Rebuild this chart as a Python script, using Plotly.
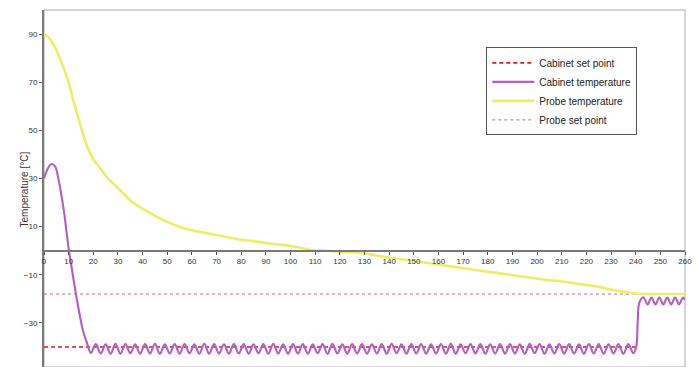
import plotly.graph_objects as go

# ---- data -------------------------------------------------------------
# Probe (core) temperature, minutes vs °C
probe_time = [0, 2, 4, 6, 8, 10, 12, 14, 16, 18, 20, 23, 26, 30, 36, 40, 46, 50,
              55, 60, 65, 70, 75, 80, 85, 90, 95, 100, 105, 110, 115, 120, 128,
              135, 141, 148, 155, 162, 168, 175, 182, 189, 196, 203, 210, 217,
              224, 231, 236, 240, 244, 250, 255, 260]
probe_temp = [90, 88.5, 85.5, 81, 76, 70, 62, 55, 48, 42, 38, 34, 30, 26, 20, 17.5,
              14, 12, 10, 8.5, 7.5, 6.5, 5.5, 4.5, 4, 3.2, 2.6, 2, 1, 0.2, 0, -0.4,
              -0.8, -2, -3, -4, -5, -6, -7, -8, -9, -10, -11, -12, -12.8, -13.8,
              -14.8, -16.3, -17.2, -17.8, -18, -18, -18, -18]

# Cabinet air temperature: pull-down ramp
cab_ramp_time = [0, 1.5, 3, 4.5, 6, 8, 10, 12, 14, 16, 17.5]
cab_ramp_temp = [30, 34, 36, 35, 29, 17, 1, -12, -24, -34, -38.5]

# Cabinet air temperature: holding at -40 °C, logged every 2 minutes
cab_hold_time = list(range(19, 240, 2))
cab_hold_temp = [
    -42.5, -38.8, -42.7, -38.9, -42.8, -38.7, -42.8, -38.8, -42.6, -38.9,
    -42.8, -38.8, -42.7, -38.7, -42.8, -38.9, -42.7, -38.8, -42.8, -38.8,
    -42.6, -38.9, -42.8, -38.7, -42.8, -38.8, -42.7, -38.9, -42.8, -38.8,
    -42.7, -38.8, -42.8, -38.9, -42.6, -38.8, -42.8, -38.7, -42.7, -38.9,
    -42.8, -38.8, -42.7, -38.8, -42.8, -38.9, -42.6, -38.8, -42.8, -38.7,
    -42.7, -38.9, -42.8, -38.8, -42.7, -38.8, -42.8, -38.9, -42.7, -38.8,
    -42.8, -38.7, -42.6, -38.9, -42.8, -38.8, -42.7, -38.8, -42.8, -38.9,
    -42.7, -38.8, -42.8, -38.7, -42.8, -38.9, -42.6, -38.8, -42.7, -38.8,
    -42.8, -38.9, -42.7, -38.8, -42.8, -38.8, -42.7, -38.9, -42.8, -38.7,
    -42.6, -38.8, -42.8, -38.9, -42.7, -38.8, -42.8, -38.8, -42.7, -38.9,
    -42.8, -38.8, -42.7, -38.8, -42.8, -38.9, -42.7, -38.8, -42.8, -38.8,
    -42.6,
]

# Cabinet air temperature: storage phase after the probe reaches its set point
cab_store_time = [240.2, 240.8, 241.5, 243.2, 244.8, 246.4, 248.0, 249.6, 251.2,
                  252.8, 254.4, 256.0, 257.6, 259.2, 260]
cab_store_temp = [-40, -30, -21.5, -19.4, -22.3, -19.4, -22.3, -19.4, -22.3,
                  -19.4, -22.3, -19.4, -22.3, -19.4, -20.5]

cabinet_time = cab_ramp_time + cab_hold_time + cab_store_time
cabinet_temp = cab_ramp_temp + cab_hold_temp + cab_store_temp

cab_sp_time = [0, 240]
cab_sp_temp = [-40, -40]
probe_sp_time = [0, 260]
probe_sp_temp = [-18, -18]

x_ticks = list(range(0, 261, 10))
y_ticks = [-30, -10, 10, 30, 50, 70, 90]
y_min, y_max = -48.3, 100

FONT = "Liberation Sans, Arial, sans-serif"

fig = go.Figure()

fig.add_trace(go.Scatter(
    x=cab_sp_time, y=cab_sp_temp, mode="lines", name="Cabinet set point",
    line=dict(color="#e01818", width=1.6, dash="4px,3px"), legendrank=1))
fig.add_trace(go.Scatter(
    x=probe_sp_time, y=probe_sp_temp, mode="lines", name="Probe set point",
    line=dict(color="#c07070", width=1, dash="dot"), legendrank=4))
fig.add_trace(go.Scatter(
    x=probe_time, y=probe_temp, mode="lines", name="Probe temperature",
    line=dict(color="#eeee66", width=2.6, shape="spline", smoothing=0.8),
    legendrank=3))
fig.add_trace(go.Scatter(
    x=cabinet_time, y=cabinet_temp, mode="lines", name="Cabinet temperature",
    line=dict(color="#b45ec4", width=2.1, shape="spline", smoothing=1.0),
    legendrank=2))

# light frame around the plot area
fig.add_shape(type="rect", xref="paper", yref="paper", x0=0, x1=1, y0=0, y1=1.0,
              line=dict(color="#c8c8c8", width=1.5), layer="below")

fig.add_annotation(
    text="Temperature [°C]", xref="paper", yref="paper",
    x=-0.042, y=0.496, showarrow=False, textangle=-90,
    font=dict(family=FONT, size=10, color="#333333"))

fig.update_layout(
    width=698, height=367,
    margin=dict(l=44, r=13, t=10, b=0),
    paper_bgcolor="white", plot_bgcolor="white",
    showlegend=True,
    legend=dict(
        x=0.69, y=0.772, xanchor="left", yanchor="middle",
        bgcolor="white", bordercolor="#555555", borderwidth=1,
        font=dict(family=FONT, size=10, color="#222222"),
        traceorder="normal", itemwidth=42, tracegroupgap=0,
    ),
    xaxis=dict(
        range=[0, 260], tickvals=x_ticks, ticktext=[str(v) for v in x_ticks],
        anchor="free", position=(0 - y_min) / (y_max - y_min),
        showline=True, linecolor="#7a7a7a", linewidth=2,
        ticks="outside", ticklen=3, tickcolor="#555555", tickwidth=1,
        showgrid=False, zeroline=False,
        tickfont=dict(family=FONT, size=8, color="#333333"),
    ),
    yaxis=dict(
        range=[y_min, y_max], tickvals=y_ticks,
        showline=True, linecolor="#7a7a7a", linewidth=2,
        ticks="outside", ticklen=3, tickcolor="#555555", tickwidth=1,
        showgrid=False, zeroline=False,
        tickfont=dict(family=FONT, size=8, color="#333333"),
    ),
)

fig.write_html("out.html")
